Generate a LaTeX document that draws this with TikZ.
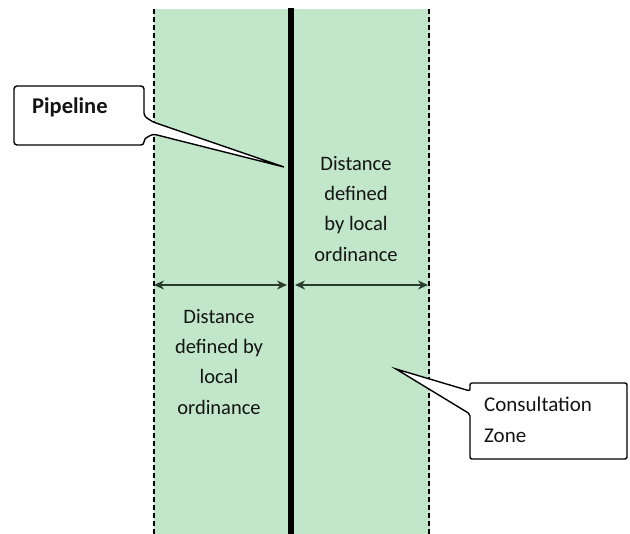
\documentclass[tikz,border=0pt]{standalone}
\usepackage{fontspec}
\setmainfont{Carlito}
\usetikzlibrary{arrows.meta}
\definecolor{zonegreen}{RGB}{193,230,201}
\definecolor{dimgray}{RGB}{40,60,45}

\begin{document}
\begin{tikzpicture}[x=1pt,y=-1pt,
  lbl/.style={font=\fontsize{20.5}{30.3}\selectfont,align=center,text=black!92,inner sep=0pt},
  calltext/.style={font=\fontsize{21}{31}\selectfont,align=left,text=black!92,inner sep=0pt},
  callline/.style={draw,line width=1.4pt,fill=white},
  dimline/.style={draw=dimgray,line width=1.3pt,{Stealth[length=10pt,width=9pt]}-{Stealth[length=10pt,width=9pt]}},
  zoneedge/.style={line width=2.3pt,dash pattern=on 5.5pt off 2.5pt}]
\useasboundingbox (0,0) rectangle (630,534);
% consultation zone and pipeline
\fill[zonegreen] (154,9) rectangle (430,534);
\draw[zoneedge] (154,9) -- (154,534);
\draw[zoneedge] (429,9) -- (429,534);
\draw[line width=5.5pt] (291,8) -- (291,534);
% distances either side of the pipeline
\coordinate (leftedge) at (154,285);
\coordinate (pipeleft) at (287,285);
\coordinate (piperight) at (295,285);
\coordinate (rightedge) at (428,285);
\draw[dimline] (leftedge) -- (pipeleft);
\draw[dimline] (piperight) -- (rightedge);
\node[lbl,anchor=north] (rightdist) at (356,156) {Distance\\defined\\by local\\ordinance};
\node[lbl,anchor=north] (leftdist) at (219,309) {Distance\\defined by\\local\\ordinance};
% callouts
\coordinate (pipetip) at (284,167);
\coordinate (zonetip) at (396,369);
\draw[callline] (70,86) [rounded corners=3pt] -- (144,86) -- (144,116) -- (153,122)
  [sharp corners] -- (pipetip) [rounded corners=3pt] -- (153,134) -- (144,139)
  -- (144,145) -- (14,145) -- (14,86) -- cycle;
\node[calltext,anchor=base west,font=\fontsize{22.5}{31}\selectfont\bfseries] (pipelbl) at (32,114) {Pipeline};
\draw[callline] (550,383) [rounded corners=2pt] -- (627,383) -- (627,459) -- (470,459)
  -- (470,414) [sharp corners] -- (zonetip) [rounded corners=2pt] -- (470,391)
  -- (470,383) -- cycle;
\node[calltext,anchor=north west] (zonelbl) at (484,397) {Consultation\\Zone};
\end{tikzpicture}
\end{document}
